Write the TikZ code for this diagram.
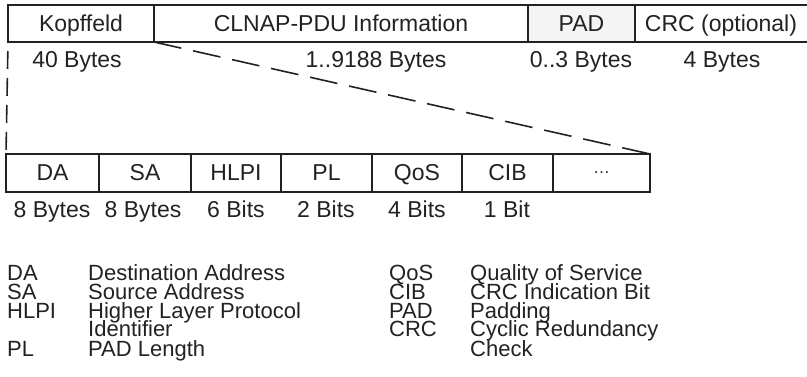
\documentclass[tikz,border=0pt]{standalone}
\usepackage{fontspec}
\setmainfont{Liberation Sans}
\definecolor{ink}{HTML}{222222}
\definecolor{padfill}{HTML}{F4F4F4}
\tikzset{
  frame/.style={draw=ink, line width=1.6pt},
  cell/.style={frame, minimum height=#1, inner sep=0pt, outer sep=0pt,
    anchor=north west, text=ink, text height=16pt, text depth=0pt,
    font=\fontsize{23}{27}\selectfont},
  cell/.default=37pt,
  sizelab/.style={anchor=base, inner sep=0pt, text=ink, text height=16pt, text depth=4pt,
    font=\fontsize{23}{27}\selectfont},
  leg/.style={anchor=base west, inner sep=0pt, text=ink, text height=15pt, text depth=3pt,
    font=\fontsize{22}{26}\selectfont},
  zoomline/.style={draw=ink, line width=1.6pt, dash pattern=on 28pt off 12pt},
  sideline/.style={draw=ink, line width=1.6pt, dash pattern=on 18pt off 9pt, dash phase=18pt}
}
\begin{document}
\begin{tikzpicture}[x=1pt, y=-1pt]
  \useasboundingbox[fill=white] (0,0) rectangle (807,377);

  % CLNAP-PDU frame
  \node[cell, minimum width=146pt] (kopf) at (8,5) {Kopffeld};
  \node[cell, minimum width=374pt] (info) at (154,5) {CLNAP-PDU Information};
  \node[cell, fill=padfill, minimum width=107pt] (pad) at (528,5) {PAD};
  \node[cell, draw=none, minimum width=172pt] (crc) at (635,5) {CRC (optional)};
  \draw[frame] (crc.north west) -- (crc.north east)
               (crc.south west) -- (crc.south east);

  % field lengths
  \node[sizelab] (kopfsize) at (77,68) {40 Bytes};
  \node[sizelab] (infosize) at (376,68) {1..9188 Bytes};
  \node[sizelab] (padsize)  at (581,68) {0..3 Bytes};
  \node[sizelab] (crcsize)  at (722,68) {4 Bytes};

  % header fields
  \node[cell=38pt, minimum width=93pt] (da)   at (6,154)   {DA};
  \node[cell=38pt, minimum width=92pt] (sa)   at (99,154)  {SA};
  \node[cell=38pt, minimum width=90pt] (hlpi) at (191,154) {HLPI};
  \node[cell=38pt, minimum width=91pt] (pl)   at (281,154) {PL};
  \node[cell=38pt, minimum width=90pt] (qos)  at (372,154) {QoS};
  \node[cell=38pt, minimum width=91pt] (cib)  at (462,154) {CIB};
  \node[cell=38pt, minimum width=97pt] (more) at (553,154)
       {\raisebox{7pt}{\fontsize{17}{17}\selectfont …}};

  \node[sizelab] (dasize)   at (52,218)  {8 Bytes};
  \node[sizelab] (sasize)   at (143,218) {8 Bytes};
  \node[sizelab] (hlpisize) at (236,218) {6 Bits};
  \node[sizelab] (plsize)   at (326,218) {2 Bits};
  \node[sizelab] (qossize)  at (417,218) {4 Bits};
  \node[sizelab] (cibsize)  at (507,218) {1 Bit};

  % expansion of the header
  \draw[sideline] (kopf.south west) -- (da.north west);
  \draw[zoomline] (kopf.south east) -- (more.north east);

  % legend
  \node[leg] (kda)   at (7,280)   {DA};
  \node[leg] (tda)   at (88,280)  {Destination Address};
  \node[leg] (ksa)   at (7,299)   {SA};
  \node[leg] (tsa)   at (88,299)  {Source Address};
  \node[leg] (khlpi) at (7,318)   {HLPI};
  \node[leg] (thlpi) at (88,318)  {Higher Layer Protocol};
  \node[leg] (thlpb) at (88,337)  {Identifier};
  \node[leg] (kpl)   at (7,356)   {PL};
  \node[leg] (tpl)   at (88,356)  {PAD Length};

  \node[leg] (kqos)  at (389,280) {QoS};
  \node[leg] (tqos)  at (470,280) {Quality of Service};
  \node[leg] (kcib)  at (389,299) {CIB};
  \node[leg] (tcib)  at (470,299) {CRC Indication Bit};
  \node[leg] (kpad)  at (389,318) {PAD};
  \node[leg] (tpad)  at (470,318) {Padding};
  \node[leg] (kcrc)  at (389,337) {CRC};
  \node[leg] (tcrc)  at (470,337) {Cyclic Redundancy};
  \node[leg] (tcrcb) at (470,356) {Check};
\end{tikzpicture}
\end{document}
